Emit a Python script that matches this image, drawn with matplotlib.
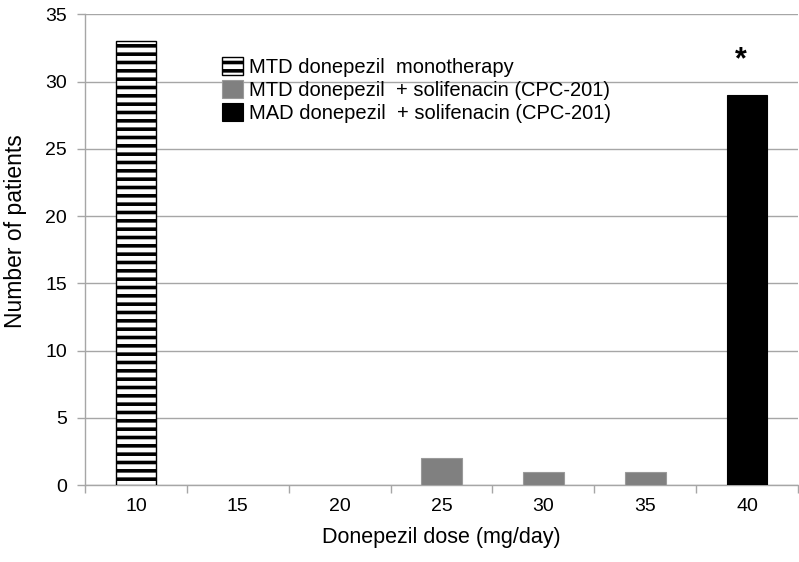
import matplotlib
matplotlib.use("Agg")
import matplotlib.pyplot as plt
import numpy as np

plt.rcParams["font.family"] = ["Liberation Sans", "DejaVu Sans"]
plt.rcParams["hatch.linewidth"] = 2.6

doses = ["10", "15", "20", "25", "30", "35", "40"]
mtd_mono = [33, 0, 0, 0, 0, 0, 0]
mtd_combo = [0, 0, 0, 2, 1, 1, 0]
mad_combo = [0, 0, 0, 0, 0, 0, 29]
labels = [
    "MTD donepezil  monotherapy",
    "MTD donepezil  + solifenacin (CPC-201)",
    "MAD donepezil  + solifenacin (CPC-201)",
]

GRID = "#a6a6a6"

fig = plt.figure(figsize=(7.99, 5.62), dpi=100)
ax = fig.add_axes([0.1064, 0.137, 0.8924, 0.8375])

x = np.arange(len(doses))
w = 0.40


def nz(vals):
    # skip empty categories so zero-height bars draw nothing
    v = np.array(vals, dtype=float)
    return x[v > 0], v[v > 0]


xs, vs = nz(mtd_mono)
ax.bar(xs, vs, w, facecolor="white", edgecolor="black", hatch="--",
       linewidth=1.0, zorder=3, label=labels[0])
xs, vs = nz(mtd_combo)
ax.bar(xs, vs, w, facecolor="#808080", edgecolor="#9a9a9a",
       linewidth=0.8, zorder=3, label=labels[1])
xs, vs = nz(mad_combo)
ax.bar(xs, vs, w, facecolor="black", edgecolor="black",
       linewidth=0.8, zorder=3, label=labels[2])

ax.text(6 - 0.06, 31.6, "*", ha="center", va="center",
        fontsize=22, fontweight="bold")

ax.set_xlim(-0.5, len(doses) - 0.5)
ax.set_ylim(0, 35)
ax.set_yticks(np.arange(0, 36, 5))
ax.yaxis.grid(True, color=GRID, linewidth=1.0, zorder=0)
ax.set_axisbelow(True)

# boundary ticks as major, labels at category centres as minor
ax.set_xticks(np.arange(-0.5, len(doses), 1.0))
ax.set_xticklabels([])
ax.set_xticks(x, minor=True)
ax.set_xticklabels(doses, minor=True)
ax.tick_params(axis="x", which="major", length=6, color=GRID, width=1.0)
ax.tick_params(axis="x", which="minor", length=0, pad=9, labelsize=14)
ax.tick_params(axis="y", length=6, color=GRID, width=1.0, labelsize=14, pad=7)

for s in ["top", "right"]:
    ax.spines[s].set_visible(False)
for s in ["left", "bottom"]:
    ax.spines[s].set_color(GRID)
    ax.spines[s].set_linewidth(1.0)

ax.set_xlabel("Donepezil dose (mg/day)", fontsize=15.5, labelpad=9)
ax.set_ylabel("Number of patients", fontsize=16.5)
ax.yaxis.set_label_coords(-0.0813, 0.54)

ax.legend(loc="upper left", bbox_to_anchor=(222 / 799, 1 - 57 / 562),
          bbox_transform=fig.transFigure, frameon=False, fontsize=14.5,
          handlelength=1.02, handleheight=0.97, handletextpad=0.3,
          labelspacing=0.16, borderpad=0, borderaxespad=0)

fig.savefig("out.png", dpi=100)
